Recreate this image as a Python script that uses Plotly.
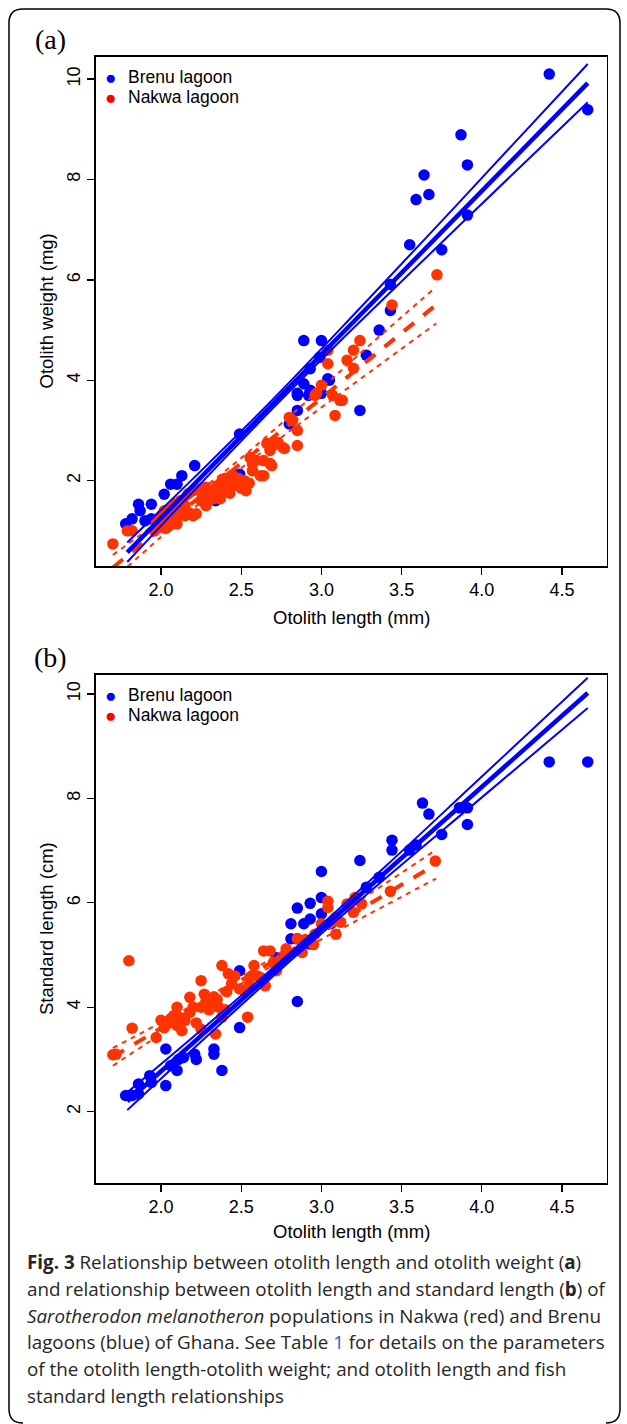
import plotly.graph_objects as go

# ---------------- data ----------------
# Panel (a): otolith length (mm) vs otolith weight (mg)
brenu_ol_a = [4.42, 4.66, 3.87, 3.91, 3.64, 3.59, 3.67, 3.91, 3.55, 3.75, 3.43, 3.43, 3.36, 3.28, 3.24,
              2.89, 3.00, 2.99, 2.93, 3.04, 2.89, 2.93, 2.85, 3.00, 2.85, 2.92, 2.80, 2.85, 2.49, 2.49,
              2.34, 2.21, 2.13, 2.06, 2.10, 2.02, 1.94, 1.86, 1.87, 1.78, 1.82, 1.90, 1.94, 2.05, 2.00, 3.05]
brenu_ow_a = [10.10, 9.39, 8.89, 8.29, 8.09, 7.60, 7.70, 7.29, 6.70, 6.60, 5.91, 5.39, 5.00, 4.50, 3.40,
              4.79, 4.79, 4.46, 4.23, 4.03, 3.93, 3.80, 3.74, 3.74, 3.40, 3.70, 3.13, 3.70, 2.93, 2.13,
              1.60, 2.30, 2.10, 1.93, 1.93, 1.73, 1.53, 1.53, 1.40, 1.14, 1.24, 1.20, 1.24, 1.30, 1.20, 4.00]

nakwa_ol_a = [1.70, 1.79, 1.82, 1.97, 1.99, 1.96, 2.00, 2.02, 2.04, 2.06,
              2.09, 2.10, 2.05, 2.08, 2.12, 2.15, 2.18, 2.20, 2.15, 2.17,
              2.20, 2.24, 2.28, 2.22, 2.28, 2.26, 2.30, 2.32, 2.35, 2.37,
              2.34, 2.38, 2.40, 2.42, 2.44, 2.45, 2.46, 2.48, 2.50, 2.52,
              2.50, 2.53, 2.40, 2.43, 2.30, 2.25, 2.57, 2.59, 2.62, 2.64,
              2.64, 2.69, 2.555, 2.57, 2.68, 2.70, 2.73, 2.77, 2.85, 2.66,
              2.72, 2.68, 2.76, 2.82, 2.80, 2.85, 2.96, 3.00, 3.07, 3.13,
              3.085, 3.04, 3.04, 3.16, 3.20, 3.20, 3.24, 3.44, 3.72, 2.97,
              3.115, 2.02, 2.07, 2.12, 2.38, 2.47, 2.55, 1.99, 2.03, 2.11]
nakwa_ow_a = [0.74, 1.00, 1.00, 1.20, 1.07, 1.00, 1.30, 1.40, 1.20, 1.44,
              1.54, 1.14, 1.10, 1.30, 1.35, 1.30, 1.35, 1.30, 1.50, 1.74,
              1.80, 1.83, 1.87, 1.34, 1.50, 1.70, 1.75, 1.80, 1.90, 1.64,
              1.65, 2.00, 2.05, 1.95, 2.10, 1.90, 2.00, 2.05, 1.95, 2.00,
              1.85, 1.80, 1.85, 1.75, 1.60, 1.60, 2.20, 2.40, 2.10, 2.10,
              2.40, 2.30, 2.46, 2.34, 2.34, 2.70, 2.76, 2.64, 2.70, 2.74,
              2.74, 2.60, 2.66, 3.20, 3.26, 3.00, 3.70, 3.90, 3.70, 3.60,
              3.30, 4.60, 4.33, 4.40, 4.24, 4.60, 4.79, 5.50, 6.10, 3.74,
              3.60, 1.25, 1.35, 1.60, 1.80, 2.00, 1.95, 1.15, 1.05, 1.45]

# regression lines and confidence bands, panel (a)
brenu_line_x_a = [1.79, 2.2, 2.7, 3.2, 3.7, 4.2, 4.66]
brenu_fit_a = [0.57, 1.91, 3.54, 5.17, 6.80, 8.42, 9.92]
brenu_upper_a = [0.77, 2.04, 3.63, 5.30, 7.00, 8.72, 10.30]
brenu_lower_a = [0.38, 1.78, 3.45, 5.04, 6.59, 8.13, 9.54]

nakwa_line_x_a = [1.70, 2.0, 2.45, 2.9, 3.3, 3.715]
nakwa_fit_a = [0.27, 1.05, 2.22, 3.39, 4.43, 5.50]
nakwa_upper_a = [0.52, 1.22, 2.32, 3.56, 4.70, 5.86]
nakwa_lower_a = [0.02, 0.88, 2.12, 3.22, 4.16, 5.13]

# Panel (b): otolith length (mm) vs standard length (cm)
brenu_ol_b = [4.42, 4.66, 3.63, 3.67, 3.86, 3.91, 3.91, 3.75, 3.44, 3.44,
              3.55, 3.59, 3.24, 3.00, 3.36, 3.28, 3.00, 2.93, 2.85, 3.00,
              2.93, 2.89, 2.81, 2.81, 2.85, 2.93, 2.85, 2.49, 2.49, 2.38,
              2.33, 2.33, 2.21, 2.22, 2.14, 2.11, 2.10, 2.06, 2.03, 2.03,
              1.93, 1.94, 1.86, 1.86, 1.82, 1.78, 3.06, 2.72]
brenu_sl_b = [8.70, 8.70, 7.91, 7.70, 7.82, 7.82, 7.50, 7.31, 7.20, 7.01,
              7.01, 7.11, 6.81, 6.60, 6.49, 6.30, 6.10, 5.99, 5.90, 5.79,
              5.69, 5.60, 5.60, 5.31, 5.31, 5.21, 4.11, 4.70, 3.61, 2.79,
              3.20, 3.10, 3.10, 3.00, 3.04, 3.00, 2.79, 2.88, 3.20, 2.50,
              2.69, 2.56, 2.53, 2.34, 2.31, 2.31, 5.60, 4.95]

nakwa_ol_b = [1.70, 1.72, 1.80, 1.82, 1.97, 2.02, 2.06, 2.08, 2.10, 2.05,
              2.10, 2.12, 2.15, 2.18, 2.18, 2.20, 2.25, 2.25, 2.25, 2.28,
              2.30, 2.32, 2.35, 2.36, 2.34, 2.38, 2.42, 2.38, 2.41, 2.44,
              2.49, 2.54, 2.52, 2.57, 2.58, 2.65, 2.62, 2.64, 2.68, 2.70,
              2.74, 2.78, 2.85, 2.90, 2.96, 3.09, 3.00, 3.04, 3.04, 3.09,
              3.12, 3.16, 3.21, 3.25, 3.20, 3.43, 3.71, 2.78, 2.40, 2.22,
              2.13, 2.46, 2.60, 2.00, 2.27, 2.33, 2.55, 2.72, 2.88, 2.95]
nakwa_sl_b = [3.09, 3.10, 4.89, 3.60, 3.42, 3.61, 3.78, 3.84, 4.00, 3.70,
              3.65, 3.80, 3.75, 3.90, 4.19, 4.00, 4.51, 3.58, 4.00, 4.10,
              3.95, 4.05, 4.15, 4.00, 3.49, 4.80, 4.64, 3.81, 4.30, 4.45,
              4.35, 3.81, 4.32, 4.61, 4.80, 4.41, 4.57, 5.08, 5.08, 4.85,
              4.90, 5.00, 5.31, 5.30, 5.40, 5.40, 5.60, 6.03, 5.91, 5.72,
              5.63, 5.98, 6.10, 5.98, 5.82, 6.22, 6.80, 5.12, 3.95, 3.70,
              3.55, 4.60, 4.60, 3.75, 4.25, 4.20, 4.45, 4.70, 5.05, 5.20]

brenu_line_x_b = [1.79, 2.2, 2.8, 3.4, 4.0, 4.66]
brenu_fit_b = [2.20, 3.315, 4.95, 6.585, 8.22, 10.02]
brenu_upper_b = [2.37, 3.43, 5.03, 6.70, 8.42, 10.31]
brenu_lower_b = [2.03, 3.20, 4.87, 6.47, 8.02, 9.73]

nakwa_line_x_b = [1.70, 2.1, 2.5, 2.9, 3.3, 3.715]
nakwa_fit_b = [3.05, 3.78, 4.515, 5.25, 5.98, 6.74]
nakwa_upper_b = [3.22, 3.875, 4.576, 5.363, 6.17, 7.015]
nakwa_lower_b = [2.88, 3.685, 4.454, 5.137, 5.79, 6.465]

x_ticks = [2.0, 2.5, 3.0, 3.5, 4.0, 4.5]
x_tick_text = ["2.0", "2.5", "3.0", "3.5", "4.0", "4.5"]
y_ticks = [2, 4, 6, 8, 10]

series_names = ["Brenu lagoon", "Nakwa lagoon"]

caption_lines = [
    "<b>Fig. 3</b> Relationship between otolith length and otolith weight (<b>a</b>)",
    "and relationship between otolith length and standard length (<b>b</b>) of",
    "<i>Sarotherodon melanotheron</i> populations in Nakwa (red) and Brenu",
    "lagoons (blue) of Ghana. See Table <span style='color:#2a5db0'>1</span> for details on the parameters",
    "of the otolith length-otolith weight; and otolith length and fish",
    "standard length relationships",
]

# ---------------- styling / layout ----------------
W, H = 627, 1424
BLUE = "#0000FF"
RED = "#FF3300"
LEG_RED = "#FF0000"
SANS = "Liberation Sans, Arial, sans-serif"


def px(x):
    return x / W


def py(y):
    return 1 - y / H


fig = go.Figure()

panels = [
    dict(xa="x", ya="y",
         b=(brenu_ol_a, brenu_ow_a), n=(nakwa_ol_a, nakwa_ow_a),
         bl=(brenu_line_x_a, brenu_fit_a, brenu_upper_a, brenu_lower_a),
         nl=(nakwa_line_x_a, nakwa_fit_a, nakwa_upper_a, nakwa_lower_a)),
    dict(xa="x2", ya="y2",
         b=(brenu_ol_b, brenu_sl_b), n=(nakwa_ol_b, nakwa_sl_b),
         bl=(brenu_line_x_b, brenu_fit_b, brenu_upper_b, brenu_lower_b),
         nl=(nakwa_line_x_b, nakwa_fit_b, nakwa_upper_b, nakwa_lower_b)),
]

for p in panels:
    fig.add_trace(go.Scatter(x=p["b"][0], y=p["b"][1], mode="markers", xaxis=p["xa"], yaxis=p["ya"],
                             marker=dict(color=BLUE, size=11.5, line=dict(width=0)), showlegend=False,
                             name=series_names[0]))
    fig.add_trace(go.Scatter(x=p["n"][0], y=p["n"][1], mode="markers", xaxis=p["xa"], yaxis=p["ya"],
                             marker=dict(color=RED, size=11.5, line=dict(width=0)), showlegend=False,
                             name=series_names[1]))
    lx, fit, up, lo = p["nl"]
    fig.add_trace(go.Scatter(x=lx, y=fit, mode="lines", xaxis=p["xa"], yaxis=p["ya"], showlegend=False,
                             line=dict(color=RED, width=4, dash="13px,12px")))
    for band in (up, lo):
        fig.add_trace(go.Scatter(x=lx, y=band, mode="lines", xaxis=p["xa"], yaxis=p["ya"], showlegend=False,
                                 line=dict(color=RED, width=2, dash="5px,5px", shape="spline")))
    lx, fit, up, lo = p["bl"]
    fig.add_trace(go.Scatter(x=lx, y=fit, mode="lines", xaxis=p["xa"], yaxis=p["ya"], showlegend=False,
                             line=dict(color=BLUE, width=4.5)))
    for band in (up, lo):
        fig.add_trace(go.Scatter(x=lx, y=band, mode="lines", xaxis=p["xa"], yaxis=p["ya"], showlegend=False,
                                 line=dict(color=BLUE, width=2, shape="spline")))

# axis geometry (pixels)
X0, X1 = 96, 606.5
A_TOP, A_BOT = 57, 566
B_TOP, B_BOT = 675, 1183

xcommon = dict(range=[1.595, 4.777], tickvals=x_ticks, ticktext=x_tick_text, ticks="outside",
               ticklen=7, tickwidth=1.3, tickcolor="black", showline=True, linewidth=1.6,
               linecolor="black", mirror=True, showgrid=False, zeroline=False,
               tickfont=dict(family=SANS, size=18, color="black"))
ycommon = dict(tickvals=y_ticks, ticks="outside", ticklen=7, tickwidth=1.3, tickcolor="black",
               showline=True, linewidth=1.6, linecolor="black", mirror=True, showgrid=False,
               zeroline=False, tickangle=-90,
               tickfont=dict(family=SANS, size=18, color="black"))

fig.update_layout(
    width=W, height=H, autosize=False,
    margin=dict(l=0, r=0, t=0, b=0),
    paper_bgcolor="white", plot_bgcolor="white",
    showlegend=False,
    xaxis=dict(domain=[px(X0), px(X1)], anchor="y", **xcommon),
    yaxis=dict(domain=[py(A_BOT), py(A_TOP)], anchor="x", range=[0.30, 10.44], **ycommon),
    xaxis2=dict(domain=[px(X0), px(X1)], anchor="y2", **xcommon),
    yaxis2=dict(domain=[py(B_BOT), py(B_TOP)], anchor="x2", range=[0.634, 10.364], **ycommon),
)

ann = []


def text(x, y, s, size, family=SANS, color="black", angle=0, xanchor="center", yanchor="middle", align="left"):
    ann.append(dict(x=px(x), y=py(y), xref="paper", yref="paper", text=s, showarrow=False,
                    font=dict(family=family, size=size, color=color), textangle=angle,
                    xanchor=xanchor, yanchor=yanchor, align=align))


# panel labels
text(51, 40, "(a)", 28, family="Liberation Serif, Times New Roman, serif")
text(51, 657, "(b)", 28, family="Liberation Serif, Times New Roman, serif")

# axis titles
text((X0 + X1) / 2, 617, "Otolith length (mm)", 18.5)
text((X0 + X1) / 2, 1231, "Otolith length (mm)", 18.5)
text(46, (A_TOP + A_BOT) / 2, "Otolith weight (mg)", 18.5, angle=-90)
text(46, (B_TOP + B_BOT) / 2, "Standard length (cm)", 18.5, angle=-90)

# legends
for top in (A_TOP, B_TOP):
    text(110, top + 20, "●", 19, color=BLUE)
    text(110, top + 40, "●", 19, color=LEG_RED)
    text(126, top + 20, series_names[0], 17.5, xanchor="left")
    text(126, top + 40, series_names[1], 17.5, xanchor="left")

# caption, one annotation per line
for i, line in enumerate(caption_lines):
    text(25, 1262 + i * 26.8, line, 18.8, family="Open Sans, Noto Sans, sans-serif",
         color="#262626", xanchor="left")

fig.update_layout(annotations=ann)

# outer rounded frame
r = 14
L, R, T, B = 9, 620, 9, 1423


def P(x, y):
    return f"{px(x):.5f},{py(y):.5f}"


path = (f"M {P(L + r, B)} Q {P(L, B)} {P(L, B - r)} L {P(L, T + r)} Q {P(L, T)} {P(L + r, T)} "
        f"L {P(R - r, T)} Q {P(R, T)} {P(R, T + r)} L {P(R, B - r)} Q {P(R, B)} {P(R - r, B)}")
fig.add_shape(type="path", path=path, xref="paper", yref="paper", line=dict(color="black", width=1.5))

fig.write_html("out.html", config={"displayModeBar": False, "staticPlot": True},
               post_script="document.body.style.margin='0px';document.body.style.overflow='hidden';")
